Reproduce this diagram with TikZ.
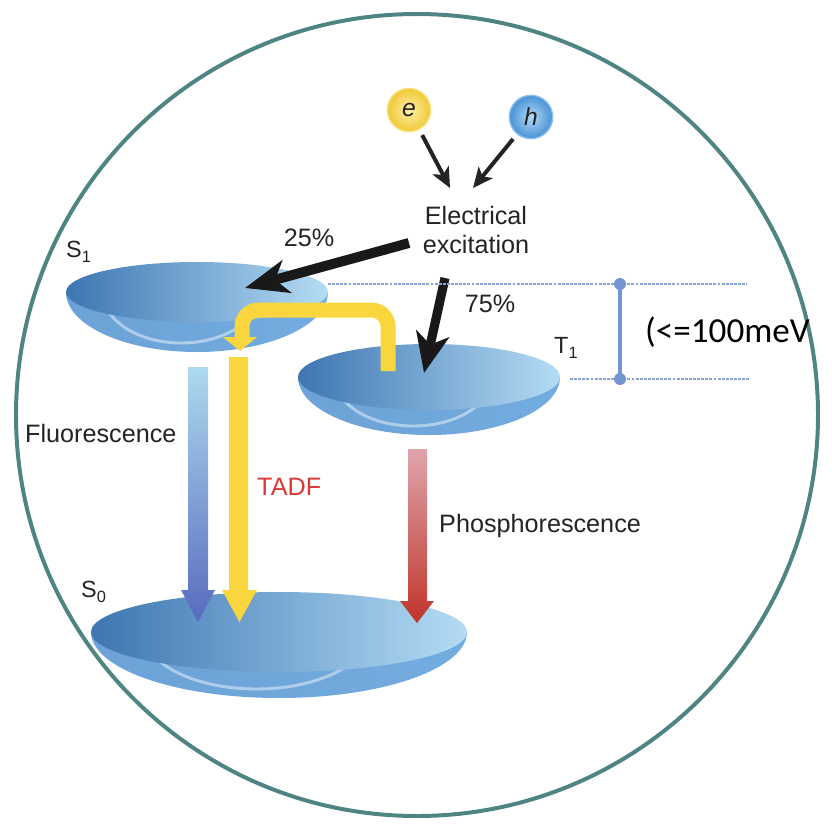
\documentclass[tikz,border=0pt]{standalone}
\usepackage{fontspec}
\setmainfont{Liberation Sans}
\newfontfamily\calib{Carlito}
\usetikzlibrary{arrows.meta}
\definecolor{ring}{RGB}{78,132,130}
\definecolor{txt}{RGB}{35,35,35}
\definecolor{tadfred}{RGB}{220,55,55}
\definecolor{yel}{RGB}{250,214,62}
\definecolor{dashc}{RGB}{135,165,218}
\definecolor{barc}{RGB}{115,150,210}
\definecolor{faceL}{RGB}{62,118,178}
\definecolor{faceR}{RGB}{180,220,244}
\definecolor{bowlL}{RGB}{108,162,214}
\definecolor{bowlM}{RGB}{218,231,246}
\definecolor{bowlR}{RGB}{115,172,224}
\definecolor{fluT}{RGB}{172,218,238}
\definecolor{fluB}{RGB}{88,106,190}
\definecolor{phoT}{RGB}{222,165,172}
\definecolor{phoB}{RGB}{192,52,42}
\definecolor{eIn}{RGB}{255,240,165}
\definecolor{eOut}{RGB}{240,200,55}
\definecolor{eRim}{RGB}{250,228,130}
\definecolor{hIn}{RGB}{178,216,246}
\definecolor{hOut}{RGB}{72,146,214}
\definecolor{hRim}{RGB}{140,192,238}
\newcommand\mydisc[5]{%
  \begin{scope}
    \clip (#1-#3-2,#2) rectangle (#1+#3+2,#2+#5+2);
    \shade[left color=bowlL, middle color=bowlM, right color=bowlR] (#1,#2) ellipse[x radius=#3, y radius=#5];
    \draw[white, opacity=0.45, line width=2.5pt] (#1-0.12*#3,#2) ellipse[x radius=0.6*#3, y radius=#5-9];
  \end{scope}
  \shade[left color=faceL, right color=faceR] (#1,#2) ellipse[x radius=#3, y radius=#4];
}
\tikzset{
  lbl/.style={inner sep=0, text=txt, font=\fontsize{21.5}{24}\selectfont},
  lvl/.style={inner sep=0, text=txt, font=\fontsize{20}{22}\selectfont, anchor=base west},
  thinarr/.style={txt, line width=3.4pt, -{Stealth[length=0.6cm, width=0.54cm, inset=0.15cm]}},
  bigarr/.style={black!90, line width=8.5pt, -{Stealth[length=1.29cm, width=1.0cm, inset=0.36cm]}},
  dashln/.style={dashc, line width=0.9pt, dash pattern=on 2.5pt off 1pt},
  ballnode/.style={circle, inner sep=0, minimum size=1.3cm, line width=1.2pt, text=txt, font=\fontsize{21}{24}\selectfont\itshape},
}
\newcommand\lvlsub[1]{\raisebox{-5pt}{\fontsize{14}{16}\selectfont #1}}
\begin{document}
\begin{tikzpicture}[x=0.03cm,y=-0.03cm]
\useasboundingbox (0,0) rectangle (832,830);
\draw[ring, line width=3.4pt] (417,415) circle[radius=401];

% discs
\mydisc{197}{292}{131}{30}{60}
\mydisc{429}{377}{131}{33}{58}
\mydisc{279}{632}{188}{40}{66}

% level labels
\node[lvl] (s1) at (66,257) {S\lvlsub{1}};
\node[lvl] (t1) at (554,353) {T\lvlsub{1}};
\node[lvl] (s0) at (81,597) {S\lvlsub{0}};

% vertical transition arrows
\shade[top color=fluT, bottom color=fluB] (188,367) -- (208,367) -- (208,590) -- (215,590) -- (198,622) -- (181,590) -- (188,590) -- cycle;
\fill[yel] (229,357) -- (248,357) -- (248,590) -- (257,590) -- (239.5,622) -- (222,590) -- (229,590) -- cycle;
\shade[top color=phoT, bottom color=phoB] (408,449) -- (427,449) -- (427,601) -- (434,601) -- (417,623) -- (400,601) -- (408,601) -- cycle;

% RISC / TADF loop
\coordinate (riscS) at (388,371);
\coordinate (riscC) at (242,310);
\coordinate (riscE) at (242,338);
\draw[yel, line width=12.8pt, rounded corners=0.5cm] (riscS) |- (riscC) -- (riscE);
\fill[yel] (223,337) -- (257,337) -- (240,351) -- cycle;

% carriers
\node[ballnode, draw=eRim, shading=radial, inner color=eIn, outer color=eOut] (e) at (409,110) {e};
\node[ballnode, draw=hRim, shading=radial, inner color=hIn, outer color=hOut] (h) at (531,117) {h};

\node[lbl, align=center] (exc) at (476,230) {Electrical\\excitation};

\coordinate (eTip) at (450,188);
\coordinate (hTip) at (473,188);
\draw[thinarr, shorten <=0.18cm] (e) -- (eTip);
\draw[thinarr, shorten <=0.18cm] (h) -- (hTip);

\coordinate (a25s) at (409,243);
\coordinate (a25t) at (245,288);
\coordinate (a75s) at (445,278);
\coordinate (a75t) at (424,373);
\draw[bigarr] (a25s) -- (a25t);
\draw[bigarr, line width=7.8pt, -{Stealth[length=1.2cm, width=1.0cm, inset=0.33cm]}] (a75s) -- (a75t);

\node[lbl, anchor=base] (p25) at (309,246) {25\%};
\node[lbl, anchor=base] (p75) at (490,312) {75\%};

% energy gap marker
\coordinate (dA) at (328,284);
\coordinate (dB) at (747,284);
\coordinate (dC) at (570,379);
\coordinate (dD) at (750,379);
\draw[dashln] (dA) -- (dB);
\draw[dashln] (dC) -- (dD);
\coordinate (gapTop) at (620,284);
\coordinate (gapBot) at (620,379);
\draw[barc, line width=3.2pt] (gapTop) -- (gapBot);
\fill[barc] (gapTop) circle[radius=6];
\fill[barc] (gapBot) circle[radius=6];
\node[inner sep=0, anchor=base west, font=\calib\fontsize{30}{32}\selectfont] (gap) at (645,342) {(<=100meV};

% process labels
\node[lbl, anchor=base west] (fl) at (25,442) {Fluorescence};
\node[lbl, anchor=base west, text=tadfred] (tadf) at (257,495) {TADF};
\node[lbl, anchor=base west] (ph) at (439,532) {Phosphorescence};
\end{tikzpicture}
\end{document}
